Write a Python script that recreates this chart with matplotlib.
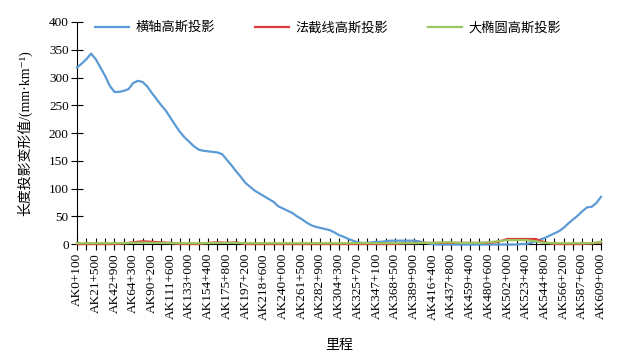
import numpy as np
import matplotlib
matplotlib.use('Agg')
import matplotlib.pyplot as plt

plt.rcParams['font.family'] = ['Liberation Serif', 'Noto Sans CJK SC', 'DejaVu Sans']

# etiquetas del eje x (una de cada dos categorias)
etiquetas = ['AK0+100', 'AK21+500', 'AK42+900', 'AK64+300', 'AK90+200', 'AK111+600',
             'AK133+000', 'AK154+400', 'AK175+800', 'AK197+200', 'AK218+600', 'AK240+000',
             'AK261+500', 'AK282+900', 'AK304+300', 'AK325+700', 'AK347+100', 'AK368+500',
             'AK389+900', 'AK416+400', 'AK437+800', 'AK459+400', 'AK480+600', 'AK502+000',
             'AK523+400', 'AK544+800', 'AK566+200', 'AK587+600', 'AK609+000']

# 横轴高斯投影 (cada media categoria)
hengzhou = [318, 325, 333, 343, 333, 318, 303, 285, 274, 274,
            276, 279, 290, 294, 292, 284, 272, 261, 250, 240,
            227, 214, 202, 192, 184, 176, 170, 168, 167, 166,
            165, 162, 152, 142, 131, 121, 110, 103, 96, 91,
            86, 81, 76, 68, 64, 60, 56, 50, 45, 39,
            34, 31, 29, 27, 25, 21, 16, 13, 9, 6,
            3, 2, 2, 3, 4, 4, 5, 6, 6, 6,
            6, 6, 6, 5, 3, 1, 0, -1, -1, -1,
            -1, -1, -1, -1, -1, -1, -1, -1, -1, -1,
            -1, -1, -1, -1, -1, 0, 0, 2, 5, 8,
            11, 15, 19, 23, 29, 37, 44, 51, 59, 66,
            67, 74, 85]

# 法截线高斯投影 (cada categoria)
fajiexian = [0, 0, 0, 0, 0, 1, 3, 5, 4, 3,
             2, 0, 0, 0, 2, 3, 2, 3, 0, 0,
             0, 0, 0, 0, 0, 0, 0, 0, 0, 0,
             0, 0, 0, 0, 0, 1.5, 2, 2, 2, 2,
             2, 2, 2, 2, 2, 4, 9, 9, 9, 9,
             3, 0, 0, 0, 0, 1, 3]

# 大椭圆高斯投影 (cada categoria)
datuoyuan = [1.5, 1.5, 1.5, 1.5, 1.5, 1.5, 2, 2.5, 2, 2,
             1.5, 1.5, 1.5, 1.5, 1.5, 2, 2, 2, 1.5, 1.5,
             1.5, 1.5, 1.5, 1.5, 1.5, 1.5, 1.5, 1.5, 1.5, 1.5,
             1.5, 1.5, 1.5, 1.5, 1.5, 1.5, 1.5, 2, 2, 3,
             3, 2, 2, 2, 3, 5, 7, 7, 7, 5,
             2, 1.5, 1.5, 1.5, 1.5, 1.5, 4]

x_azul = np.arange(len(hengzhou)) / 2
x_cat = np.arange(len(fajiexian))

fig = plt.figure(figsize=(6.35, 3.52), dpi=100)
ax = fig.add_axes([0.1213, 0.3068, 0.8252, 0.6307])

ax.plot(x_azul, hengzhou, color='#5B9BD5', lw=1.6, label='横轴高斯投影', clip_on=False)
ax.plot(x_cat, fajiexian, color='#DD3B3B', lw=1.6, label='法截线高斯投影', clip_on=False)
ax.plot(x_cat, datuoyuan, color='#9BC55F', lw=1.6, label='大椭圆高斯投影', clip_on=False)

ax.set_xlim(0, 56)
ax.set_ylim(0, 400)
ax.set_yticks(np.arange(0, 401, 50))
ax.set_xticks(x_cat, minor=True)
ax.set_xticks(x_cat[::2])
ax.set_xticklabels(etiquetas, rotation=90, fontsize=9.5)
ax.tick_params(axis='y', labelsize=9.5, direction='inout', length=8, width=0.8, pad=2)
ax.tick_params(axis='x', which='both', direction='inout', length=9, width=0.8, pad=2)

for s in ['top', 'right']:
    ax.spines[s].set_visible(False)
for s in ['left', 'bottom']:
    ax.spines[s].set_color('black')
    ax.spines[s].set_linewidth(0.8)
    ax.spines[s].set_zorder(1)

ax.set_xlabel('里程', fontsize=10, labelpad=14)
ax.set_ylabel('长度投影变形值/(mm·km⁻¹)', fontsize=10, labelpad=12)

ax.legend(loc='center', bbox_to_anchor=(0.479, 0.973), ncol=3, frameon=False,
          fontsize=9.5, handlelength=2.6, columnspacing=3.0, handletextpad=0.5)

plt.savefig('out.png', dpi=100)
